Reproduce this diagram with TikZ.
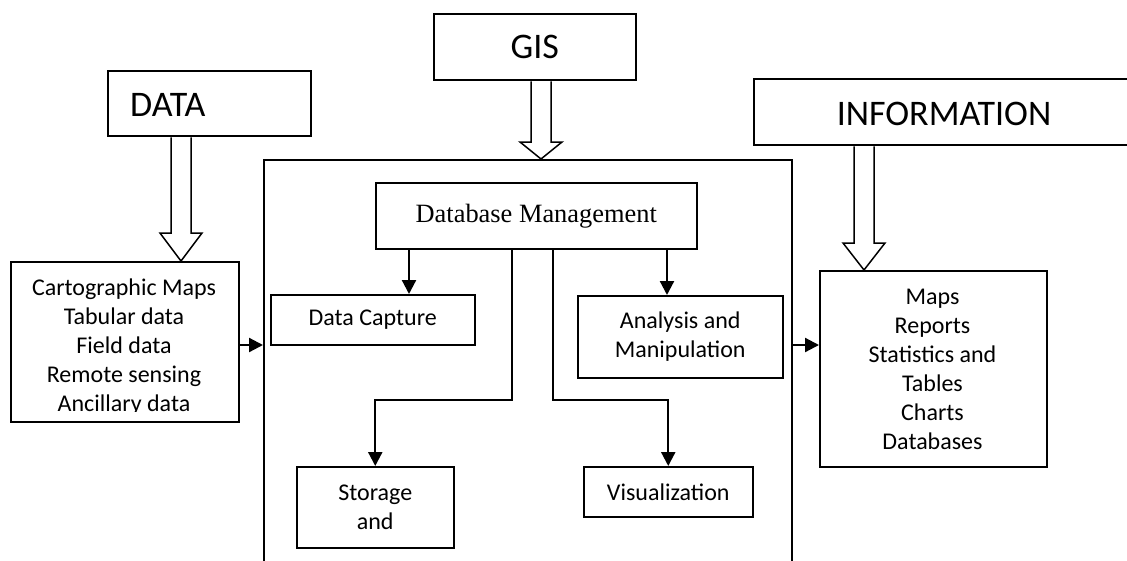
\documentclass[tikz,border=0pt]{standalone}
\usepackage{fontspec}
\setmainfont{Carlito}
\newfontfamily\tnrfont{Liberation Serif}
\usetikzlibrary{arrows.meta,calc}
\tikzset{
  box/.style={draw, line width=1.5pt, inner sep=0pt, anchor=north west, align=center,
              font=\fontsize{24}{29}\selectfont},
  bodytext/.style={inner sep=0pt, align=center, font=\fontsize{24}{29}\selectfont},
  bigtext/.style={inner sep=0pt, font=\fontsize{36}{43}\selectfont},
  conn/.style={line width=2.2pt, -{Triangle[length=14pt,width=14pt]}},
  hollow/.style={draw, line width=1.5pt, fill=white, line join=miter},
}
% #1 start point (box bottom), #2 tip point, #3 head length
\newcommand\hollowarrow[3]{%
  \draw[hollow] let \p1=(#1), \p2=(#2) in
    ({\x2-10pt},{\y1-0.8pt}) -- ({\x2-10pt},{\y2+#3pt}) -- ({\x2-21pt},{\y2+#3pt})
    -- (\x2,\y2) -- ({\x2+21pt},{\y2+#3pt}) -- ({\x2+10pt},{\y2+#3pt}) -- ({\x2+10pt},{\y1-0.8pt});
}
\begin{document}
\begin{tikzpicture}[x=1pt,y=-1pt]
\clip (0,0) rectangle (1127,560);
\fill[white] (0,0) rectangle (1127,560);

% top boxes
\node[box, minimum width=203, minimum height=65] (data) at (107,70) {};
\node[bigtext, anchor=west] (datat) at (130,104.5) {DATA};
\node[box, minimum width=202, minimum height=66, font=\fontsize{36}{43}\selectfont] (gis) at (433,13) {GIS};
\node[box, minimum width=420, minimum height=66] (info) at (753,78) {};
\node[bigtext] (infot) at (944,113.5) {INFORMATION};

% main frame
\node[box, minimum width=528, minimum height=440] (main) at (263,159) {};

% side boxes
\node[box, minimum width=228, minimum height=160] (carto) at (10,261) {};
\begin{scope}
  \clip (10,261) rectangle (238,411.5);
  \node[bodytext, anchor=base] (cartot) at (124,411)
    {Cartographic Maps\\Tabular data\\Field data\\Remote sensing\\Ancillary data};
\end{scope}
\node[box, minimum width=227, minimum height=196] (maps) at (819,270) {};
\node[bodytext, anchor=base] (mapst) at (932.5,449)
  {Maps\\Reports\\Statistics and\\Tables\\Charts\\Databases};

% inner boxes
\node[box, minimum width=321, minimum height=66, font=\tnrfont\fontsize{26.4}{32}\selectfont] (db) at (375,182) {Database Management};
\node[box, minimum width=204, minimum height=50] (capture) at (270,294) {Data Capture};
\node[box, minimum width=205, minimum height=82] (analysis) at (577,295) {Analysis and\\Manipulation};
\node[box, minimum width=157, minimum height=81] (storage) at (296,466) {Storage\\and};
\node[box, minimum width=169, minimum height=50] (viz) at (583,466) {Visualization};

% hollow arrows
\hollowarrow{181,0 |- data.south}{181,0 |- carto.north}{28}
\hollowarrow{541,0 |- gis.south}{541,0 |- main.north}{17}
\hollowarrow{864,0 |- info.south}{864,0 |- maps.north}{27}

% connectors
\coordinate (ya) at (0,345);
\coordinate (yb) at (0,400);
\draw[conn] (carto.east |- ya) -- (main.west |- ya);
\draw[conn] (main.east |- ya) -- (maps.west |- ya);
\draw[conn] (409,0 |- db.south) -- (409,0 |- capture.north);
\draw[conn] (667,0 |- db.south) -- (667,0 |- analysis.north);
\draw[conn] (512,0 |- db.south) |- (storage.north |- yb) -- (storage.north);
\draw[conn] (553,0 |- db.south) |- (viz.north |- yb) -- (viz.north);
\end{tikzpicture}
\end{document}
